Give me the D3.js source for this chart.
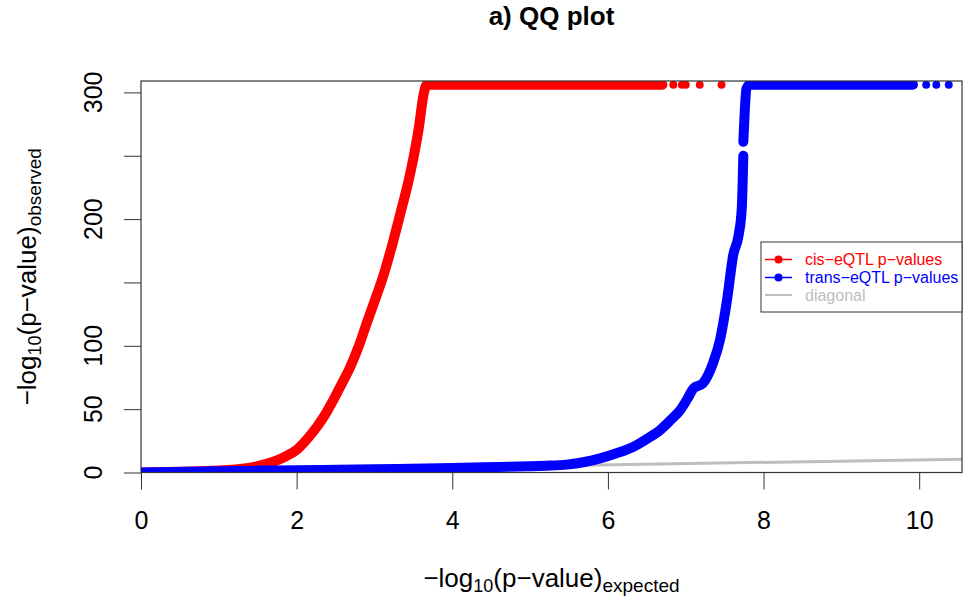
<!DOCTYPE html>
<html>
<head>
<meta charset="utf-8">
<script src="https://cdn.jsdelivr.net/npm/d3@7"></script>
<style>
  body { margin: 0; background: #fff; }
  text { font-family: "Liberation Sans", Arial, sans-serif; }
</style>
</head>
<body>
<svg width="965" height="601"></svg>
<script>
// values (expected vs observed -log10 p)
var cisExpected = [0, 0.5, 1.0, 1.3, 1.5, 1.7, 1.85, 2.0, 2.13, 2.26, 2.37, 2.47, 2.58, 2.69, 2.8, 2.9, 3.0, 3.11, 3.23, 3.35, 3.43, 3.5, 3.57, 3.63, 3.67, 5.0, 6.0, 6.7];
var cisObserved = [0, 0.6, 1.5, 3, 5, 8.5, 12.5, 17.8, 26, 36, 46, 57, 70, 83.5, 100, 117.8, 135, 154.5, 180, 208.5, 228, 248, 272, 298, 306, 306, 306, 306];
var cisTailExpected = [6.84, 6.95, 7.0, 7.18, 7.46];
var cisTailObserved = [306, 306, 306, 306, 306];

var transLowExpected = [0, 1, 2, 3, 4, 4.61, 5.0, 5.2, 5.47, 5.7, 5.9, 6.1, 6.33, 6.5, 6.67, 6.8, 6.93, 7.02, 7.1, 7.22, 7.35, 7.44, 7.53, 7.61, 7.68, 7.72, 7.74];
var transLowObserved = [0, 1, 1.8, 2.6, 3.5, 4.4, 4.9, 5.3, 6.2, 8.3, 11.2, 15, 20.4, 26.5, 33.5, 41, 49.3, 58, 66.4, 70.4, 86.2, 104.6, 136, 171.7, 187.4, 208.5, 250];
var transHighExpected = [7.74, 7.76, 7.78, 7.82, 9.0, 9.92];
var transHighObserved = [261, 287, 303, 306, 306, 306];
var transTailExpected = [10.09, 10.22, 10.38];
var transTailObserved = [306, 306, 306];

var xTicks = [0, 2, 4, 6, 8, 10];
var yTicks = [0, 50, 100, 150, 200, 250, 300];
var yLabels = [0, 50, 100, 200, 300];

var legendLabels = ['cis\u2212eQTL p\u2212values', 'trans\u2212eQTL p\u2212values', 'diagonal'];
var legendColors = ['#ff0000', '#0000ff', '#bebebe'];

var svg = d3.select('svg');

var plot = {l: 141, r: 962, t: 81, b: 472.5};

var xScale = d3.scaleLinear().domain([0, 10.55]).range([plot.l, plot.r]);
var yScale = d3.scaleLinear().domain([0, 309]).range([plot.b, plot.t]);

function zip(xs, ys) {
    return xs.map(function(x, i) { return [x, ys[i]]; });
}

// title
svg.append('text')
    .attr('x', (plot.l + plot.r) / 2)
    .attr('y', 25)
    .attr('text-anchor', 'middle')
    .style('font-size', '26px')
    .style('font-weight', 'bold')
    .text('a) QQ plot');

// clip to plot region
svg.append('clipPath').attr('id', 'clip')
    .append('rect')
    .attr('x', plot.l).attr('y', plot.t)
    .attr('width', plot.r - plot.l).attr('height', plot.b - plot.t);

var dataG = svg.append('g').attr('clip-path', 'url(#clip)');

// diagonal
dataG.append('line')
    .attr('x1', xScale(0)).attr('y1', yScale(0))
    .attr('x2', xScale(10.55)).attr('y2', yScale(10.55))
    .attr('stroke', '#bebebe')
    .attr('stroke-width', 3);

var line = d3.line()
    .x(function(d) { return xScale(d[0]); })
    .y(function(d) { return yScale(d[1]); })
    .curve(d3.curveMonotoneX);

function drawBand(pts, color) {
    dataG.append('path')
        .datum(pts)
        .attr('d', line)
        .attr('fill', 'none')
        .attr('stroke', color)
        .attr('stroke-width', 10)
        .attr('stroke-linejoin', 'round')
        .attr('stroke-linecap', 'round');
}

function drawDots(pts, color) {
    dataG.selectAll(null)
        .data(pts)
        .enter()
        .append('circle')
        .attr('cx', function(d) { return xScale(d[0]); })
        .attr('cy', function(d) { return yScale(d[1]); })
        .attr('r', 4)
        .attr('fill', color);
}

drawBand(zip(cisExpected, cisObserved), '#ff0000');
drawDots(zip(cisTailExpected, cisTailObserved), '#ff0000');
drawBand(zip(transLowExpected, transLowObserved), '#0000ff');
drawBand(zip(transHighExpected, transHighObserved), '#0000ff');
drawDots(zip(transTailExpected, transTailObserved), '#0000ff');

// axes
var xAxis = d3.axisBottom(xScale).tickValues(xTicks).tickSize(17).tickPadding(22);
var xAxisG = svg.append('g')
    .attr('transform', 'translate(0,' + plot.b + ')')
    .call(xAxis);
xAxisG.select('.domain').remove();
xAxisG.selectAll('line').attr('stroke', '#333');
xAxisG.selectAll('text').style('font-size', '25px').attr('fill', '#000')
    .style('font-family', '"Liberation Sans", Arial, sans-serif');

var yAxis = d3.axisLeft(yScale).tickValues(yTicks).tickSize(17).tickFormat('');
var yAxisG = svg.append('g')
    .attr('transform', 'translate(' + plot.l + ',0)')
    .call(yAxis);
yAxisG.select('.domain').remove();
yAxisG.selectAll('line').attr('stroke', '#333');

svg.selectAll('.ylab')
    .data(yLabels)
    .enter()
    .append('text')
    .attr('class', 'ylab')
    .attr('transform', function(d) { return 'translate(101.5,' + yScale(d) + ')rotate(-90)'; })
    .attr('text-anchor', 'middle')
    .style('font-size', '25px')
    .text(function(d) { return d; });

// box
svg.append('rect')
    .attr('x', plot.l).attr('y', plot.t)
    .attr('width', plot.r - plot.l).attr('height', plot.b - plot.t)
    .attr('fill', 'none')
    .attr('stroke', '#333')
    .attr('stroke-width', 1.2);

// axis titles
function axisTitle(sel, sub) {
    sel.append('tspan').text('\u2212log');
    sel.append('tspan').attr('baseline-shift', '-5px').style('font-size', '18px').text('10');
    sel.append('tspan').text('(p\u2212value)');
    sel.append('tspan').attr('baseline-shift', '-5px').style('font-size', '19px').text(sub);
}

var xTitle = svg.append('text')
    .attr('x', (plot.l + plot.r) / 2)
    .attr('y', 587)
    .attr('text-anchor', 'middle')
    .style('font-size', '26px');
axisTitle(xTitle, 'expected');

var yTitle = svg.append('text')
    .attr('transform', 'translate(36,' + (plot.t + plot.b) / 2 + ')rotate(-90)')
    .attr('text-anchor', 'middle')
    .style('font-size', '26px');
axisTitle(yTitle, 'observed');

// legend
var legendG = svg.append('g');
legendG.append('rect')
    .attr('x', 761).attr('y', 242)
    .attr('width', plot.r - 761).attr('height', 70)
    .attr('fill', '#fff')
    .attr('stroke', '#333');

var legendRows = [259.5, 277.5, 295];
legendLabels.forEach(function(label, i) {
    var y = legendRows[i];
    legendG.append('line')
        .attr('x1', 765).attr('x2', 792)
        .attr('y1', y).attr('y2', y)
        .attr('stroke', legendColors[i])
        .attr('stroke-width', i === 2 ? 2 : 1.5);
    if (i < 2) {
        legendG.append('circle')
            .attr('cx', 778.5).attr('cy', y).attr('r', 4)
            .attr('fill', legendColors[i]);
    }
    legendG.append('text')
        .attr('x', 805).attr('y', y + 5.5)
        .style('font-size', '16px')
        .attr('fill', legendColors[i])
        .text(label);
});
</script>
</body>
</html>
